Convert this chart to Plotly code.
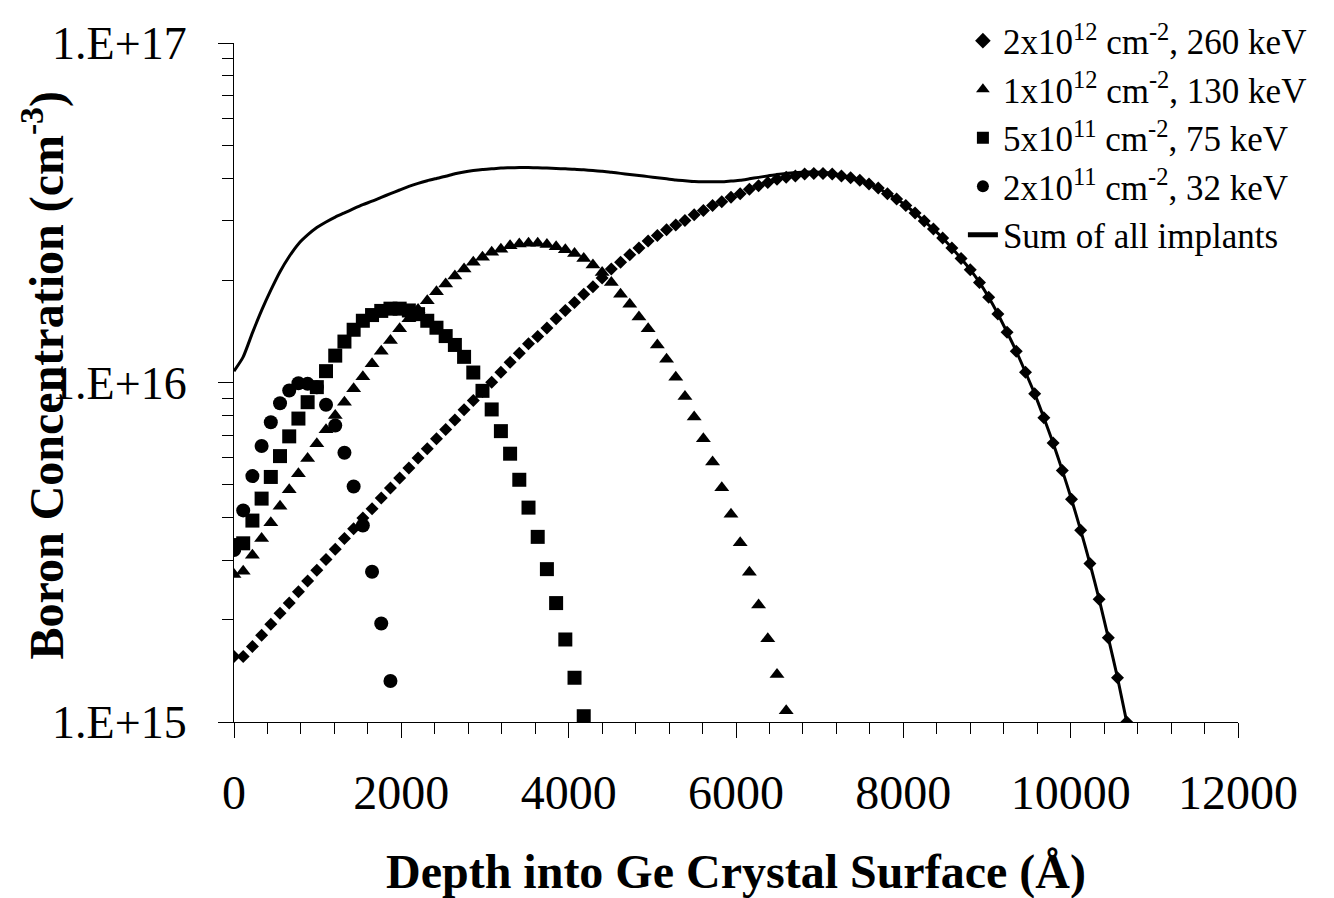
import plotly.graph_objects as go

# Depth grid (Angstrom), 110 A steps
depth = [0, 110, 220, 330, 440, 550, 660, 770, 880, 990,
         1100, 1210, 1320, 1430, 1540, 1650, 1760, 1870, 1980, 2090,
         2200, 2310, 2420, 2530, 2640, 2750, 2860, 2970, 3080, 3190,
         3300, 3410, 3520, 3630, 3740, 3850, 3960, 4070, 4180, 4290,
         4400, 4510, 4620, 4730, 4840, 4950, 5060, 5170, 5280, 5390,
         5500, 5610, 5720, 5830, 5940, 6050, 6160, 6270, 6380, 6490,
         6600, 6710, 6820, 6930, 7040, 7150, 7260, 7370, 7480, 7590,
         7700, 7810, 7920, 8030, 8140, 8250, 8360, 8470, 8580, 8690,
         8800, 8910, 9020, 9130, 9240, 9350, 9460, 9570, 9680, 9790,
         9900, 10010, 10120, 10230, 10340, 10450, 10560, 10670]

# 2x10^12 cm^-2, 260 keV (cm^-3)
conc_260 = [1.56e15, 1.56e15, 1.67e15, 1.80e15, 1.94e15, 2.09e15, 2.24e15, 2.42e15, 2.60e15, 2.80e15,
            3.01e15, 3.23e15, 3.47e15, 3.71e15, 3.99e15, 4.25e15, 4.57e15, 4.89e15, 5.23e15, 5.60e15,
            5.99e15, 6.38e15, 6.83e15, 7.27e15, 7.76e15, 8.31e15, 8.85e15, 9.41e15, 1.002e16, 1.072e16,
            1.147e16, 1.219e16, 1.300e16, 1.365e16, 1.448e16, 1.540e16, 1.630e16, 1.720e16, 1.820e16, 1.915e16,
            2.030e16, 2.160e16, 2.260e16, 2.380e16, 2.490e16, 2.610e16, 2.710e16, 2.820e16, 2.910e16, 3.000e16,
            3.120e16, 3.210e16, 3.320e16, 3.410e16, 3.510e16, 3.600e16, 3.710e16, 3.800e16, 3.880e16, 3.970e16,
            4.020e16, 4.060e16, 4.110e16, 4.130e16, 4.130e16, 4.110e16, 4.060e16, 4.010e16, 3.940e16, 3.840e16,
            3.740e16, 3.600e16, 3.470e16, 3.320e16, 3.155e16, 2.990e16, 2.830e16, 2.665e16, 2.490e16, 2.320e16,
            2.150e16, 1.972e16, 1.782e16, 1.592e16, 1.406e16, 1.236e16, 1.072e16, 9.26e15, 7.87e15, 6.63e15,
            5.51e15, 4.53e15, 3.67e15, 2.93e15, 2.30e15, 1.77e15, 1.35e15, 1.00e15]

# 1x10^12 cm^-2, 130 keV
conc_130 = [2.72e15, 2.78e15, 3.10e15, 3.47e15, 3.86e15, 4.32e15, 4.83e15, 5.39e15, 5.97e15, 6.60e15,
            7.26e15, 8.00e15, 8.75e15, 9.58e15, 1.040e16, 1.135e16, 1.236e16, 1.330e16, 1.440e16, 1.540e16,
            1.640e16, 1.740e16, 1.850e16, 1.950e16, 2.060e16, 2.160e16, 2.260e16, 2.340e16, 2.420e16, 2.470e16,
            2.530e16, 2.560e16, 2.570e16, 2.570e16, 2.550e16, 2.510e16, 2.460e16, 2.400e16, 2.320e16, 2.220e16,
            2.110e16, 1.970e16, 1.820e16, 1.700e16, 1.560e16, 1.440e16, 1.290e16, 1.170e16, 1.037e16, 9.09e15,
            7.91e15, 6.83e15, 5.83e15, 4.90e15, 4.09e15, 3.37e15, 2.76e15, 2.21e15, 1.76e15, 1.38e15,
            1.08e15]

# 5x10^11 cm^-2, 75 keV
conc_75 = [3.32e15, 3.36e15, 3.92e15, 4.55e15, 5.27e15, 6.07e15, 6.94e15, 7.83e15, 8.75e15, 9.69e15,
           1.080e16, 1.200e16, 1.320e16, 1.430e16, 1.520e16, 1.580e16, 1.625e16, 1.650e16, 1.650e16, 1.630e16,
           1.590e16, 1.520e16, 1.450e16, 1.370e16, 1.290e16, 1.190e16, 1.070e16, 9.45e15, 8.33e15, 7.19e15,
           6.17e15, 5.17e15, 4.28e15, 3.51e15, 2.82e15, 2.24e15, 1.75e15, 1.35e15, 1.04e15]

# 2x10^11 cm^-2, 32 keV
conc_32 = [3.21e15, 4.20e15, 5.30e15, 6.50e15, 7.64e15, 8.69e15, 9.47e15, 9.95e15, 9.91e15, 9.68e15,
           8.60e15, 7.47e15, 6.21e15, 4.94e15, 3.79e15, 2.77e15, 1.95e15, 1.32e15]

# Sum of all implants
conc_sum = [1.08e16, 1.19e16, 1.40e16, 1.63e16, 1.87e16, 2.12e16, 2.35e16, 2.56e16, 2.72e16, 2.86e16,
            2.97e16, 3.07e16, 3.16e16, 3.25e16, 3.34e16, 3.42e16, 3.51e16, 3.60e16, 3.69e16, 3.78e16,
            3.86e16, 3.93e16, 3.99e16, 4.05e16, 4.12e16, 4.17e16, 4.21e16, 4.24e16, 4.26e16, 4.28e16,
            4.29e16, 4.30e16, 4.30e16, 4.29e16, 4.28e16, 4.27e16, 4.26e16, 4.25e16, 4.23e16, 4.21e16,
            4.19e16, 4.16e16, 4.13e16, 4.10e16, 4.07e16, 4.04e16, 4.01e16, 3.98e16, 3.95e16, 3.93e16,
            3.91e16, 3.90e16, 3.90e16, 3.90e16, 3.92e16, 3.94e16, 3.98e16, 4.02e16, 4.06e16, 4.10e16,
            4.13e16, 4.15e16, 4.17e16, 4.17e16, 4.16e16, 4.13e16, 4.08e16, 4.01e16, 3.940e16, 3.840e16,
            3.740e16, 3.600e16, 3.470e16, 3.320e16, 3.155e16, 2.990e16, 2.830e16, 2.665e16, 2.490e16, 2.320e16,
            2.150e16, 1.972e16, 1.782e16, 1.592e16, 1.406e16, 1.236e16, 1.072e16, 9.26e15, 7.87e15, 6.63e15,
            5.51e15, 4.53e15, 3.67e15, 2.93e15, 2.30e15, 1.77e15, 1.35e15, 1.00e15]

names = ["2x10<sup>12</sup> cm<sup>-2</sup>, 260 keV",
         "1x10<sup>12</sup> cm<sup>-2</sup>, 130 keV",
         "5x10<sup>11</sup> cm<sup>-2</sup>, 75 keV",
         "2x10<sup>11</sup> cm<sup>-2</sup>, 32 keV",
         "Sum of all implants"]

x_ticks = [0, 2000, 4000, 6000, 8000, 10000, 12000]
y_ticks = [1e15, 1e16, 1e17]
y_ticktext = ["1.E+15", "1.E+16", "1.E+17"]
y_minor = [2e15, 3e15, 4e15, 5e15, 6e15, 7e15, 8e15, 9e15,
           2e16, 3e16, 4e16, 5e16, 6e16, 7e16, 8e16, 9e16]

FONT = "Liberation Serif, Times New Roman, serif"

fig = go.Figure()
fig.add_trace(go.Scatter(x=depth[:len(conc_260)], y=conc_260, mode="markers", name=names[0],
                         marker=dict(symbol="diamond", size=10, color="black", line=dict(width=0))))
fig.add_trace(go.Scatter(x=depth[:len(conc_130)], y=conc_130, mode="markers", name=names[1],
                         marker=dict(symbol="triangle-up", size=13, color="black", line=dict(width=0))))
fig.add_trace(go.Scatter(x=depth[:len(conc_75)], y=conc_75, mode="markers", name=names[2],
                         marker=dict(symbol="square", size=14, color="black", line=dict(width=0))))
fig.add_trace(go.Scatter(x=depth[:len(conc_32)], y=conc_32, mode="markers", name=names[3],
                         marker=dict(symbol="circle", size=14, color="black", line=dict(width=0))))
fig.add_trace(go.Scatter(x=depth[:len(conc_sum)], y=conc_sum, mode="lines", name=names[4],
                         line=dict(color="black", width=3, shape="spline", smoothing=0.6)))

axis_common = dict(showgrid=False, zeroline=False, showline=True, linecolor="black", linewidth=1.3,
                   ticks="outside", ticklen=15, tickwidth=1.3, tickcolor="black")

fig.update_layout(
    width=1334, height=898,
    margin=dict(l=234, r=96, t=42, b=176),
    paper_bgcolor="white", plot_bgcolor="white",
    font=dict(family=FONT, color="black"),
    showlegend=True,
    legend=dict(x=0.726, y=1.045, xanchor="left", yanchor="top",
                font=dict(family=FONT, size=35, color="black"),
                bgcolor="rgba(0,0,0,0)", itemsizing="constant", tracegroupgap=0),
    xaxis=dict(range=[0, 12000], tickvals=x_ticks, ticktext=[str(v) for v in x_ticks],
               minor=dict(dtick=400, tick0=0, ticks="outside", ticklen=11, tickwidth=1.3,
                          tickcolor="black", showgrid=False),
               tickfont=dict(family=FONT, size=48, color="black"),
               ticklabelstandoff=13, **axis_common),
    yaxis=dict(type="log", range=[15, 17], tickvals=y_ticks, ticktext=y_ticktext,
               minor=dict(tickmode="array", tickvals=y_minor, ticks="outside", ticklen=11,
                          tickwidth=1.3, tickcolor="black", showgrid=False),
               tickfont=dict(family=FONT, size=46, color="black"),
               ticklabelstandoff=22, **axis_common),
    annotations=[
        dict(text="<b>Depth into Ge Crystal Surface (Å)</b>", xref="paper", yref="paper",
             x=0.5, y=-0.2206, xanchor="center", yanchor="middle", showarrow=False,
             font=dict(family=FONT, size=48, color="black")),
        dict(text="<b>Boron Concentration (cm<sup>-3</sup>)</b>", xref="paper", yref="paper",
             x=-0.1895, y=0.51, xanchor="center", yanchor="middle", textangle=-90, showarrow=False,
             font=dict(family=FONT, size=48, color="black")),
    ],
)

fig.write_html("out.html")
